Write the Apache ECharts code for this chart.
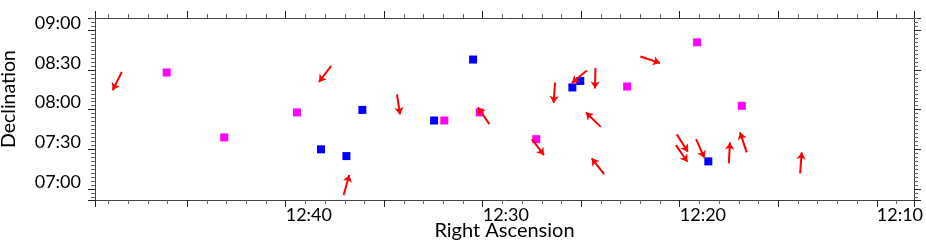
<!DOCTYPE html>
<html>
<head>
<meta charset="utf-8">
<script src="https://cdn.jsdelivr.net/npm/echarts@6/dist/echarts.min.js"></script>
<style>
html,body{margin:0;padding:0;background:#fff;}
#chart{width:926px;height:247px;}
</style>
</head>
<body>
<div id="chart"></div>
<script>
// RA in minutes past 12h, Dec in minutes of arc past 0 deg
const raRange = [8.11, 49.68];
const decRange = [411.7, 549.3];
const xTickLabels = ['12:40', '12:30', '12:20', '12:10'];
const yTickLabels = ['07:00', '07:30', '08:00', '08:30', '09:00'];

const magentaRA  = [46.04, 43.12, 39.43, 31.95, 30.15, 27.28, 22.67, 19.12, 16.85];
const magentaDec = [508.1, 459.0, 477.9, 471.8, 477.9, 457.7, 497.5, 530.9, 482.9];

const blueRA  = [36.11, 38.21, 36.92, 32.47, 30.49, 25.45, 25.05, 18.55];
const blueDec = [479.8, 450.0, 444.9, 471.8, 517.9, 496.8, 501.7, 440.9];

const arrowTailRA  = [48.32, 37.69, 34.35, 37.06, 29.66, 27.51, 26.33, 24.71, 24.28, 24.01, 23.84, 22.00, 20.15, 20.20, 19.17, 17.51, 16.60, 13.89];
const arrowTailDec = [508.5, 513.1, 491.5, 415.5, 469.1, 457.7, 500.5, 509.6, 511.5, 467.0, 431.3, 520.2, 461.3, 453.2, 457.7, 439.4, 447.7, 431.8];
const arrowHeadRA  = [48.78, 38.31, 34.20, 36.77, 30.25, 26.89, 26.40, 25.48, 24.30, 24.76, 24.47, 21.00, 19.59, 19.61, 18.75, 17.45, 16.94, 13.81];
const arrowHeadDec = [494.7, 501.0, 476.4, 430.6, 481.7, 445.7, 485.1, 500.2, 496.0, 477.9, 443.2, 515.3, 448.2, 440.6, 443.6, 455.2, 462.8, 447.7];

const FONT = 'Lato';
function pad(n){ n = Math.round(n); return (n < 10 ? '0' : '') + n; }
function raFmt(v){
  const s = '12:' + pad(v);
  return xTickLabels.indexOf(s) >= 0 && Math.abs(v - Math.round(v)) < 1e-6 ? s : '';
}
function decFmt(v){
  if (Math.abs(v - Math.round(v)) > 1e-6) return '';
  const s = pad(Math.floor(v / 60)) + ':' + pad(v % 60);
  return yTickLabels.indexOf(s) >= 0 ? s : '';
}

const magentaData = magentaRA.map((r, i) => [r, magentaDec[i]]);
const blueData = blueRA.map((r, i) => [r, blueDec[i]]);
const arrowData = arrowTailRA.map((r, i) => ({coords: [[r, arrowTailDec[i]], [arrowHeadRA[i], arrowHeadDec[i]]]}));

const lineCol = '#444';
function xAxisDef(pos, withLabels){
  return {
    type: 'value', inverse: true, position: pos,
    min: raRange[0], max: raRange[1],
    minInterval: 5, maxInterval: 5,
    name: withLabels ? 'Right Ascension' : '',
    nameLocation: 'middle', nameGap: 21, nameMoveOverlap: false,
    nameTextStyle: {fontFamily: FONT, fontSize: 20, color: '#000', verticalAlign: 'top'},
    axisLine: {show: true, onZero: false, lineStyle: {color: lineCol, width: 1}},
    axisTick: {show: true, inside: false, length: 7, lineStyle: {color: '#222'}},
    minorTick: {show: true, splitNumber: 5, length: 4, lineStyle: {color: '#666'}},
    axisLabel: {show: withLabels, align: 'left', margin: 6, formatter: raFmt,
      fontFamily: FONT, fontSize: 18, color: '#000'},
    splitLine: {show: false}, minorSplitLine: {show: false}
  };
}
function yAxisDef(pos, withLabels){
  return {
    type: 'value', position: pos,
    min: decRange[0], max: decRange[1],
    minInterval: 30, maxInterval: 30,
    name: withLabels ? 'Declination' : '',
    nameLocation: 'middle', nameGap: 76, nameMoveOverlap: false,
    nameTextStyle: {fontFamily: FONT, fontSize: 19.5, color: '#000', padding: [0, 0, 0, 20]},
    axisLine: {show: true, onZero: false, lineStyle: {color: lineCol, width: 1}},
    axisTick: {show: true, inside: false, length: 7, lineStyle: {color: '#222'}},
    minorTick: {show: true, splitNumber: 10, length: 4, lineStyle: {color: '#666'}},
    axisLabel: {show: withLabels, margin: 14, formatter: decFmt, verticalAlign: 'bottom',
      lineHeight: 14,
      fontFamily: FONT, fontSize: 18, color: '#000'},
    splitLine: {show: false}, minorSplitLine: {show: false}
  };
}

const chart = echarts.init(document.getElementById('chart'), null, {renderer: 'canvas'});
chart.setOption({
  animation: false,
  backgroundColor: '#fff',
  grid: {left: 95, right: 12, top: 18, bottom: 47, containLabel: false, outerBoundsMode: 'none'},
  xAxis: [xAxisDef('bottom', true), xAxisDef('top', false)],
  yAxis: [yAxisDef('left', true), yAxisDef('right', false)],
  series: [
    {type: 'scatter', name: 'magenta', data: magentaData, symbol: 'rect', symbolSize: 8,
     itemStyle: {color: '#ff00ff', opacity: 1}, xAxisIndex: 0, yAxisIndex: 0, z: 2},
    {type: 'scatter', name: 'blue', data: blueData, symbol: 'rect', symbolSize: 8,
     itemStyle: {color: '#0000ff', opacity: 1}, xAxisIndex: 0, yAxisIndex: 0, z: 3},
    {type: 'lines', coordinateSystem: 'cartesian2d', xAxisIndex: 0, yAxisIndex: 0,
     data: arrowData, symbol: ['none', 'arrow'], symbolSize: 7,
     lineStyle: {color: '#ff0000', width: 2, opacity: 1, curveness: 0},
     effect: {show: false}, z: 4}
  ]
});
</script>
</body>
</html>
